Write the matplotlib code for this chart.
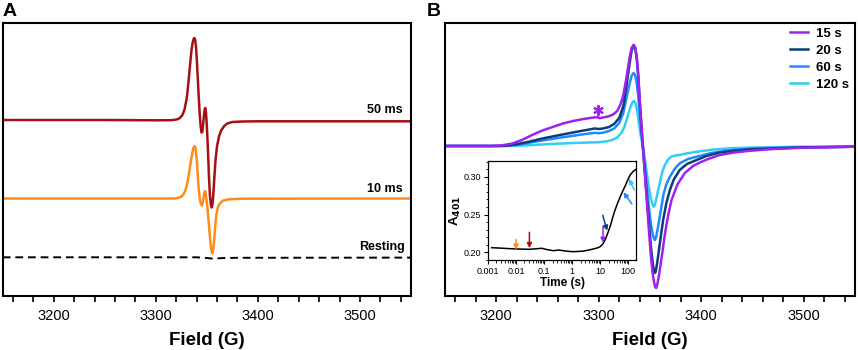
import matplotlib
matplotlib.use("Agg")
import matplotlib.pyplot as plt
from matplotlib.ticker import MultipleLocator
import numpy as np

plt.rcParams['font.family'] = ['Liberation Sans', 'DejaVu Sans']

# ---------------- Panel A data (field in G, signal in arbitrary units) ----------------
a50_field = [3150, 3250, 3300, 3315, 3319, 3322, 3324, 3326, 3328, 3330, 3331, 3332, 3333, 3334,
             3335, 3336, 3337, 3337.8, 3338.6, 3339.4, 3340.2, 3341, 3342, 3343, 3344, 3344.8,
             3345.5, 3346.3, 3347.2, 3348, 3348.6, 3349.2, 3350, 3351, 3352, 3353, 3354, 3354.8,
             3355.6, 3356.5, 3357.5, 3358.5, 3360, 3362, 3364, 3367, 3370, 3375, 3385, 3400, 3550]
a50_signal = [0, 0, -0.3, -0.2, 0.3, 1, 2.5, 5, 10, 20, 28, 38, 49, 60,
              70, 77, 81, 82, 80, 73, 60, 44, 24, 6, -7, -12.5,
              -12, -5, 5, 11.5, 12, 7, -6, -28, -55, -75, -85, -87.5,
              -84, -72, -55, -40, -26, -16, -10.5, -6, -3.5, -2, -1.5, -1.3, -1.3]
a10_field = [3150, 3318, 3322, 3325, 3327, 3329, 3331, 3332.5, 3334, 3335.5, 3336.8, 3338, 3339,
             3340, 3341, 3342, 3343, 3344, 3345.2, 3346.2, 3347.2, 3348.2, 3349, 3350, 3351,
             3352.5, 3353.7, 3354.7, 3355.5, 3356.3, 3357.3, 3358.3, 3359.5, 3361, 3363, 3366,
             3372, 3385, 3550]
a10_signal = [0, 0, 0.5, 2, 4, 8, 16, 25, 35, 44, 50.5, 52.5, 50,
              40, 25, 10, 0, -5, -7, -3, 4, 7.5, 4, -4, -14,
              -32, -46, -53, -55, -51, -40, -26, -15, -8, -4.5, -2,
              -0.7, -0.2, 0]
rest_field = [3150, 3340, 3350, 3356, 3365, 3380, 3550]
rest_signal = [0, 0, -0.7, -1.3, -0.8, -0.5, -0.3]
a_offsets = {"50 ms": 176, "10 ms": 97.5, "Resting": 38.7}

# ---------------- Panel B data ----------------
b_field_15 = [3150, 3195, 3205, 3215, 3225, 3235, 3245, 3255, 3265, 3275, 3285, 3295, 3299, 3301,
              3304, 3309, 3314, 3318, 3321, 3324, 3327, 3330, 3332, 3334, 3335.5, 3337, 3338.5,
              3340, 3341.5, 3343, 3345, 3347, 3349, 3351, 3353, 3355, 3356, 3357, 3358.5, 3360,
              3362, 3364, 3366, 3368, 3371, 3377, 3384, 3392, 3399, 3408, 3418, 3432, 3448, 3470,
              3500, 3550]
b_sig_15 = [0, 0, 0.6, 2.3, 6, 11, 15.5, 19, 22.5, 25, 27, 28.5, 28.8, 27.8,
            28.5, 29.5, 31.5, 35, 41, 51, 68, 88, 98, 101, 99, 90, 72,
            45, 22, 0, -28, -56, -85, -112, -131, -141, -142, -139, -131, -121,
            -107, -92, -79, -68, -54, -38, -27, -20, -16.3, -12.5, -9, -6.5, -4.7, -3,
            -1.7, -0.7]
b_field_20 = [3150, 3200, 3210, 3220, 3232, 3245, 3262, 3280, 3296, 3300, 3304, 3310, 3315, 3320,
              3324, 3327, 3330, 3332, 3334, 3335.5, 3337, 3338.5, 3340, 3341.5, 3343, 3345, 3347,
              3349, 3351, 3353, 3354.5, 3355.5, 3357, 3359, 3361, 3363, 3366, 3369.4, 3373, 3379,
              3386, 3395.5, 3405, 3418, 3433, 3448, 3496, 3550]
b_sig_20 = [0, 0, 0.4, 1.8, 4.3, 7.5, 11, 14.5, 17.5, 17, 17.5, 19, 22, 28,
            40, 60, 82, 95, 101, 98, 88, 70, 45, 22, 0, -26, -52,
            -78, -102, -120, -127, -126, -117, -102, -87, -73, -57, -44, -34, -24,
            -18, -14, -10, -6.5, -4.7, -3.3, -1.5, -0.7]
b_field_60 = [3150, 3205, 3215, 3225, 3235, 3248, 3262, 3280, 3296, 3300, 3304, 3310, 3315, 3320,
              3324, 3327, 3330, 3332, 3334, 3335.5, 3337, 3338.5, 3340, 3341.5, 3343, 3345, 3347,
              3349, 3351, 3353, 3354.7, 3356, 3358, 3360, 3361.3, 3363, 3366, 3369.4, 3374, 3379,
              3387, 3395.5, 3410, 3430, 3450, 3496, 3550]
b_sig_60 = [0, 0, 0.7, 2, 3.8, 6, 8.3, 11, 13.2, 12.8, 13.3, 15, 17.5, 23,
            33, 48, 62, 70, 73, 71, 63, 50, 32, 15, 0, -20, -42,
            -62, -79, -90, -94, -91, -80, -68, -60, -49, -38, -30.7, -23, -17.3,
            -13, -10.7, -7, -4, -2.8, -1.2, -0.7]
b_field_120 = [3150, 3215, 3230, 3250, 3270, 3290, 3300, 3307, 3313, 3318, 3322, 3325, 3328, 3331,
               3333, 3334.5, 3336, 3337.5, 3339, 3341, 3343, 3345, 3347, 3349, 3351, 3352.7,
               3353.8, 3355, 3356.5, 3358, 3359.6, 3361, 3362.6, 3364.5, 3366.2, 3368, 3371,
               3376, 3380, 3388, 3396, 3410, 3428, 3450, 3496, 3550]
b_sig_120 = [0, 0, 0.7, 1.8, 2.8, 3.5, 3.8, 4.5, 6, 8.5, 13, 19, 29, 39,
             44, 45, 42, 35, 24, 10, 0, -13, -28, -42, -53, -59,
             -60.7, -58, -51, -44, -37, -30, -24, -19, -16, -13, -10.5,
             -9.3, -8.7, -7, -5.7, -3.8, -2.3, -1.5, -0.8, -0.7]
b_labels = ["15 s", "20 s", "60 s", "120 s"]
b_colors = ["#A020F0", "#0E3C78", "#1A8CFF", "#33CCF5"]

# ---------------- Inset data ----------------
inset_time = [0.00135, 0.0035, 0.006, 0.01, 0.018, 0.0316, 0.05, 0.083, 0.13, 0.214, 0.33, 0.49,
              0.75, 1.1, 1.7, 2.5, 4, 5.7, 8, 10, 12.5, 15, 18.5, 22.7, 28, 34, 42, 52, 64,
              78, 95, 117, 150, 190]
inset_A = [0.2061, 0.2053, 0.2048, 0.2044, 0.2042, 0.2040, 0.2046, 0.2053, 0.2035, 0.2021, 0.2030,
           0.2021, 0.2012, 0.2008, 0.2012, 0.2016, 0.2030, 0.2044, 0.2058, 0.2074, 0.2110,
           0.2163, 0.2250, 0.2340, 0.2460, 0.2560, 0.2650, 0.2735, 0.2810, 0.2877, 0.2950,
           0.3022, 0.3070, 0.3098]
arrow_start_t = [0.01, 0.03, 12.7, 12.4, 135, 163]
arrow_start_A = [0.217, 0.2265, 0.235, 0.249, 0.264, 0.2825]
arrow_end_t = [0.01, 0.03, 12.7, 17.8, 68, 107]
arrow_end_A = [0.2035, 0.2055, 0.2125, 0.2285, 0.2795, 0.2975]
arrow_colors = ["#FF8C1A", "#A50F15", "#A020F0", "#0E3C78", "#1A8CFF", "#33CCF5"]

W, H = 858, 350
fig = plt.figure(figsize=(W / 100, H / 100), dpi=100)

def fx(px):
    return px / W

def fy(py):
    return 1 - py / H

axA = fig.add_axes([fx(2.7), fy(296), fx(411) - fx(2.7), fy(23) - fy(296)])
axB = fig.add_axes([fx(445), fy(296), fx(855) - fx(445), fy(23) - fy(296)])

for ax in (axA, axB):
    ax.set_xlim(3150, 3550)
    ax.xaxis.set_major_locator(MultipleLocator(100))
    ax.xaxis.set_minor_locator(MultipleLocator(20))
    ax.set_yticks([])
    for s in ax.spines.values():
        s.set_linewidth(1.5)
    ax.tick_params(axis='x', which='major', direction='out', length=4.5, width=1.2,
                   labelsize=10.5, pad=5)
    ax.tick_params(axis='x', which='minor', direction='out', length=4, width=1.2)
    ax.set_xlabel("Field (G)", fontsize=13.5, fontweight='bold', labelpad=6.5)

# Panel A
axA.set_ylim(0, 273)
axA.plot(a50_field, np.array(a50_signal) + a_offsets["50 ms"], color="#A50F15", lw=1.8)
axA.plot(a10_field, np.array(a10_signal) + a_offsets["10 ms"], color="#FF8C1A", lw=1.8)
axA.plot(rest_field, np.array(rest_signal) + a_offsets["Resting"], color="black", lw=1.4,
         dashes=(4, 2.5))
axA.text(3542, 186, "50 ms", ha='right', va='center', fontsize=9, fontweight='bold')
axA.text(3542, 107, "10 ms", ha='right', va='center', fontsize=9, fontweight='bold')
axA.text(3544, 49, "Resting", ha='right', va='center', fontsize=9, fontweight='bold')

# Panel B
axB.set_ylim(-150, 123)
series = [(b_field_15, b_sig_15), (b_field_20, b_sig_20), (b_field_60, b_sig_60),
          (b_field_120, b_sig_120)]
lines = []
for (fld, sig), lab, col in zip(series[::-1], b_labels[::-1], b_colors[::-1]):
    ln, = axB.plot(fld, sig, color=col, lw=1.8, label=lab)
    lines.append(ln)
lines = lines[::-1]
axB.legend(lines, b_labels, loc='upper left', bbox_to_anchor=(0.841, 0.984), frameon=False,
           prop={'weight': 'bold', 'size': 9.5}, handlelength=1.4, handletextpad=0.6,
           labelspacing=0.36, borderpad=0, borderaxespad=0)
axB.plot([3299], [36], marker=(6, 2, 0), color="#A020F0", ms=7.5, mew=1.5, ls='none')

fig.text(fx(3), fy(11), "A", fontsize=14, fontweight='bold', va='center', ha='left')
fig.text(fx(427), fy(11), "B", fontsize=14, fontweight='bold', va='center', ha='left')

# Inset
axI = fig.add_axes([fx(488), fy(260), fx(636) - fx(488), fy(161) - fy(260)])
axI.set_xscale('log')
axI.plot(inset_time, inset_A, color='black', lw=1.1)
axI.set_xlim(0.001, 190)
axI.set_ylim(0.1898, 0.3208)
axI.set_xticks([0.001, 0.01, 0.1, 1, 10, 100])
axI.set_xticklabels(["0.001", "0.01", "0.1", "1", "10", "100"])
axI.set_yticks([0.20, 0.25, 0.30])
axI.set_yticklabels(["0.20", "0.25", "0.30"])
axI.yaxis.set_minor_locator(MultipleLocator(0.01))
axI.tick_params(which='major', direction='out', length=3, width=0.8, labelsize=6.5, pad=2)
axI.tick_params(which='minor', direction='out', length=1.8, width=0.6)
for s in axI.spines.values():
    s.set_linewidth(0.9)
axI.set_xlabel("Time (s)", fontsize=8.5, fontweight='bold', labelpad=1)
axI.set_ylabel(r"A$_{\mathbf{401}}$", fontsize=9.5, fontweight='bold', labelpad=0.5)
for t0, a0, t1, a1, c in zip(arrow_start_t, arrow_start_A, arrow_end_t, arrow_end_A, arrow_colors):
    axI.annotate("", xy=(t1, a1), xytext=(t0, a0),
                 arrowprops=dict(arrowstyle='-|>', color=c, lw=1.1, mutation_scale=7,
                                 shrinkA=0, shrinkB=0))

fig.savefig("out.png", dpi=100)
